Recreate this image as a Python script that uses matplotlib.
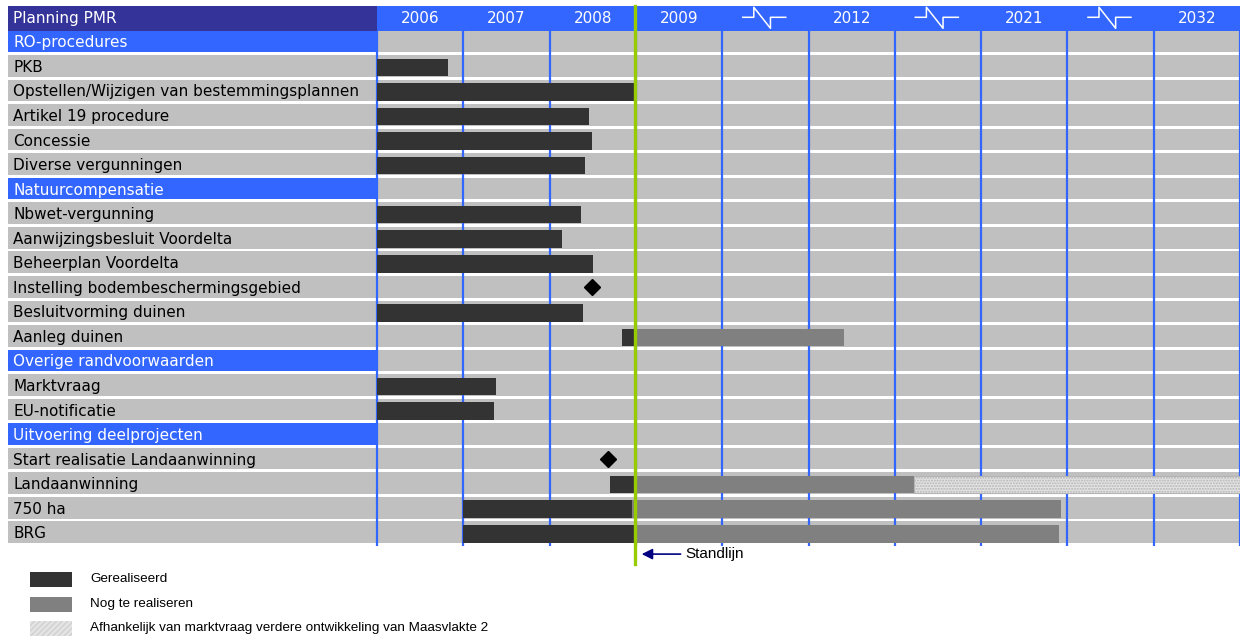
import matplotlib.pyplot as plt
from matplotlib.patches import Rectangle

# kleuren
navy = '#333399'
blue = '#3366FF'
grey_row = '#C0C0C0'
done_col = '#333333'
todo_col = '#808080'
opt_col = '#E4E4E4'
green = '#99CC00'

# tijdas: 10 kolommen, sommige met een breuk-symbool
col_labels = ['2006', '2007', '2008', '2009', '', '2012', '', '2021', '', '2032']
col_break = [False, False, False, False, True, False, True, False, True, False]

rows = ['RO-procedures', 'PKB', 'Opstellen/Wijzigen van bestemmingsplannen',
        'Artikel 19 procedure', 'Concessie', 'Diverse vergunningen',
        'Natuurcompensatie', 'Nbwet-vergunning', 'Aanwijzingsbesluit Voordelta',
        'Beheerplan Voordelta', 'Instelling bodembeschermingsgebied',
        'Besluitvorming duinen', 'Aanleg duinen', 'Overige randvoorwaarden',
        'Marktvraag', 'EU-notificatie', 'Uitvoering deelprojecten',
        'Start realisatie Landaanwinning', 'Landaanwinning', '750 ha', 'BRG']
sections = ['RO-procedures', 'Natuurcompensatie', 'Overige randvoorwaarden',
            'Uitvoering deelprojecten']

# balken in kolom-eenheden (0 = begin 2006)
gerealiseerd = {
    'PKB': (0, 0.82),
    'Opstellen/Wijzigen van bestemmingsplannen': (0, 2.99),
    'Artikel 19 procedure': (0, 2.46),
    'Concessie': (0, 2.49),
    'Diverse vergunningen': (0, 2.41),
    'Nbwet-vergunning': (0, 2.36),
    'Aanwijzingsbesluit Voordelta': (0, 2.14),
    'Beheerplan Voordelta': (0, 2.50),
    'Besluitvorming duinen': (0, 2.39),
    'Aanleg duinen': (2.84, 2.99),
    'Marktvraag': (0, 1.38),
    'EU-notificatie': (0, 1.36),
    'Landaanwinning': (2.70, 2.99),
    '750 ha': (1.0, 2.96),
    'BRG': (1.0, 2.99),
}
nog_te_realiseren = {
    'Aanleg duinen': (2.99, 5.41),
    'Landaanwinning': (2.99, 6.22),
    '750 ha': (2.96, 7.93),
    'BRG': (2.99, 7.90),
}
afhankelijk = {
    'Landaanwinning': (6.22, 10.0),
}
mijlpalen = {
    'Instelling bodembeschermingsgebied': 2.49,
    'Start realisatie Landaanwinning': 2.68,
}
standlijn = 2.985

ncol = len(col_labels)
label_w = 4.276

fig = plt.figure(figsize=(12.45, 6.36), dpi=100)
ax = fig.add_axes([8 / 1245, 90 / 636, 1232 / 1245, 540 / 636])
ax.set_xlim(-label_w, ncol)
ax.set_ylim(len(rows) + 1, 0)
ax.axis('off')

font = 'DejaVu Sans'
fs = 11

# kopregel
ax.barh(0.5, label_w, left=-label_w, height=1.0, color=navy, zorder=1)
ax.barh(0.5, ncol, left=0, height=1.0, color=blue, zorder=1)
ax.text(-label_w + 0.06, 0.52, 'Planning PMR', color='white', fontsize=fs,
        family=font, va='center', ha='left', zorder=5)
for c, (lab, brk) in enumerate(zip(col_labels, col_break)):
    cx = c + 0.5
    if brk:
        bx = [cx - 0.262, cx - 0.134, cx - 0.134, cx + 0.059, cx + 0.059, cx + 0.236]
        by = [0.46, 0.46, 0.05, 0.91, 0.46, 0.46]
        ax.plot(bx, by, color='white', lw=1.1, zorder=5)
    else:
        ax.text(cx, 0.52, lab, color='white', fontsize=fs, family=font,
                ha='center', va='center', zorder=5)

# rijen
for i, name in enumerate(rows, start=1):
    yc = i + 0.44
    is_sec = name in sections
    ax.barh(yc, label_w, left=-label_w, height=0.88,
            color=blue if is_sec else grey_row, zorder=1)
    ax.barh(yc, ncol, left=0, height=0.88, color=grey_row, zorder=1)
    ax.text(-label_w + 0.06, i + 0.5, name, color='white' if is_sec else 'black',
            fontsize=fs, family=font, va='center', ha='left', zorder=5)

# verticale lijnen
ax.vlines(range(0, ncol + 1), 1, len(rows) + 1, color=blue, lw=1.6, zorder=2)

for i, name in enumerate(rows, start=1):
    yc = i + 0.5
    if name in gerealiseerd:
        a, b = gerealiseerd[name]
        ax.barh(yc, b - a, left=a, height=0.72, color=done_col, zorder=3)
    if name in nog_te_realiseren:
        a, b = nog_te_realiseren[name]
        ax.barh(yc, b - a, left=a, height=0.72, color=todo_col, zorder=3)
    if name in afhankelijk:
        a, b = afhankelijk[name]
        ax.barh(yc, b - a, left=a, height=0.72, facecolor=opt_col,
                edgecolor='#B4B4B4', hatch='......', lw=0.8, zorder=3)
    if name in mijlpalen:
        ax.plot(mijlpalen[name], i + 0.45, marker='D', color='black',
                markersize=8, zorder=4)

# standlijn
ax.plot([standlijn, standlijn], [0, len(rows) + 1.73], color=green, lw=2.4,
        zorder=6, clip_on=False)
ax.annotate('', xy=(standlijn + 0.05, len(rows) + 1.33),
            xytext=(3.55, len(rows) + 1.33),
            arrowprops=dict(arrowstyle='-|>', color='#000080', lw=1.2,
                            mutation_scale=16), annotation_clip=False)
ax.text(3.57, len(rows) + 1.33, 'Standlijn', fontsize=11,
        family='Liberation Sans', va='center', ha='left')

# legenda
lax = fig.add_axes([0, 0, 1, 1])
lax.set_xlim(0, 1245)
lax.set_ylim(636, 0)
lax.axis('off')
leg_items = [('Gerealiseerd', done_col, None),
             ('Nog te realiseren', todo_col, None),
             ('Afhankelijk van marktvraag verdere ontwikkeling van Maasvlakte 2', opt_col, '//////')]
for k, (txt, colr, htch) in enumerate(leg_items):
    y0 = 572 + k * 24.5
    lax.add_patch(Rectangle((30, y0), 42, 15, facecolor=colr,
                            edgecolor='#D0D0D0' if htch else colr,
                            hatch=htch, lw=0))
    lax.text(90, y0 + 7.5, txt, fontsize=9.7, family='Liberation Sans',
             va='center', ha='left')

fig.savefig('out.png', dpi=100)
